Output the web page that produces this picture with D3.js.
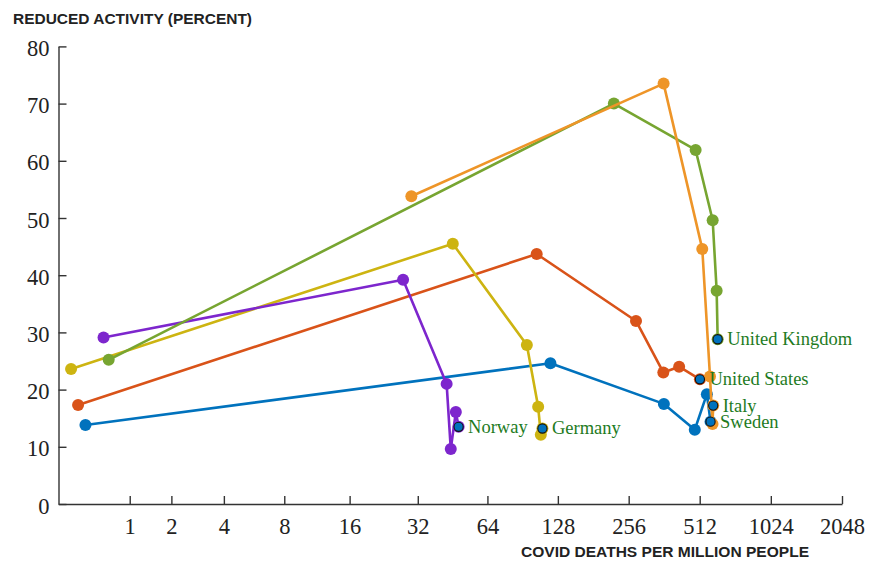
<!DOCTYPE html>
<html>
<head>
<meta charset="utf-8">
<script src="https://cdn.jsdelivr.net/npm/d3@7"></script>
<style>
  body { margin: 0; background: #fff; }
  svg { display: block; }
  .axis path, .axis line { stroke: #333; stroke-width: 1.4; }
  .axis text { font-family: "Liberation Serif", "DejaVu Serif", serif; font-size: 22.5px; fill: #222; }
</style>
</head>
<body>
<div id="chart"></div>
<script>
// Country paths: deaths per million (x) vs reduced activity in percent (y)
const countries = ["Sweden", "United States", "Germany", "Norway", "United Kingdom", "Italy"];
const colors = ["#0072BD", "#D95319", "#CDB411", "#7D26CD", "#77A531", "#EE9528"];

const deaths = [
  [0.30, 119, 361, 488, 549, 569],
  [0.21, 104, 275, 359, 419, 513],
  [0.13, 45.4, 94.4, 105.5, 108.3, 110],
  [0.55, 27.6, 42.7, 44.5, 46.8, 48.1],
  [0.63, 221.5, 492, 581, 604, 610],
  [30, 360, 525, 566, 580, 584]
];
const activity = [
  [13.8, 24.6, 17.5, 13.0, 19.2, 14.4],
  [17.3, 43.7, 32.0, 23.0, 24.0, 21.8],
  [23.6, 45.5, 27.8, 17.0, 12.1, 13.2],
  [29.1, 39.2, 21.0, 9.6, 16.1, 13.5],
  [25.2, 70.0, 61.9, 49.6, 37.3, 28.8],
  [53.8, 73.5, 44.6, 22.3, 14.0, 17.2]
];

const xTicks = [1, 2, 4, 8, 16, 32, 64, 128, 256, 512, 1024, 2048];
const yTicks = [0, 10, 20, 30, 40, 50, 60, 70, 80];

const width = 869, height = 561;
const svg = d3.select("#chart").append("svg")
    .attr("width", width)
    .attr("height", height);

// log(1 + x) axis, so zero deaths sits on the y axis
const x = d3.scaleSymlog().constant(1).domain([0, 2048]).range([58.5, 842]);
const y = d3.scaleLinear().domain([0, 80]).range([504, 46.4]);

svg.append("g")
    .attr("class", "axis")
    .attr("transform", "translate(0,504)")
    .call(d3.axisBottom(x).tickValues(xTicks).tickFormat(d3.format("d"))
        .tickSize(-8).tickSizeOuter(0).tickPadding(14))
    .selectAll("text").attr("dy", "0.71em");

svg.append("g")
    .attr("class", "axis")
    .attr("transform", "translate(58.5,0)")
    .call(d3.axisLeft(y).tickValues(yTicks).tickSize(-8).tickSizeOuter(0).tickPadding(9))
    .selectAll("text").attr("dy", "0.4em");

svg.append("text")
    .attr("x", 13)
    .attr("y", 24)
    .attr("font-family", "'Liberation Sans', Arial, sans-serif")
    .attr("font-weight", "bold")
    .attr("font-size", 14)
    .attr("textLength", 239)
    .attr("lengthAdjust", "spacingAndGlyphs")
    .attr("fill", "#222")
    .text("REDUCED ACTIVITY (PERCENT)");

svg.append("text")
    .attr("x", 521)
    .attr("y", 557)
    .attr("font-family", "'Liberation Sans', Arial, sans-serif")
    .attr("font-weight", "bold")
    .attr("font-size", 14)
    .attr("textLength", 288)
    .attr("lengthAdjust", "spacingAndGlyphs")
    .attr("fill", "#222")
    .text("COVID DEATHS PER MILLION PEOPLE");

const series = countries.map((name, i) => ({
  name: name,
  color: colors[i],
  points: deaths[i].map((d, j) => [d, activity[i][j]])
}));

const line = d3.line().x(d => x(d[0])).y(d => y(d[1]));

const groups = svg.selectAll(".country")
    .data(series)
    .enter()
    .append("g")
    .attr("class", "country");

groups.append("path")
    .attr("d", d => line(d.points))
    .attr("fill", "none")
    .attr("stroke", d => d.color)
    .attr("stroke-width", 2.6)
    .attr("stroke-linejoin", "round");

groups.selectAll("circle")
    .data(d => d.points.map(p => ({ p: p, color: d.color })))
    .enter()
    .append("circle")
    .attr("cx", d => x(d.p[0]))
    .attr("cy", d => y(d.p[1]))
    .attr("r", 6)
    .attr("fill", d => d.color);

// latest point of each country, highlighted and labelled
const last = series.map(s => ({ name: s.name, p: s.points[s.points.length - 1] }));

svg.selectAll(".end")
    .data(last)
    .enter()
    .append("circle")
    .attr("class", "end")
    .attr("cx", d => x(d.p[0]))
    .attr("cy", d => y(d.p[1]))
    .attr("r", 4.6)
    .attr("fill", "#0072BD")
    .attr("stroke", "#111")
    .attr("stroke-width", 1.1);

svg.selectAll(".label")
    .data(last)
    .enter()
    .append("text")
    .attr("class", "label")
    .attr("x", d => x(d.p[0]) + 9.5)
    .attr("y", d => y(d.p[1]) + 6)
    .attr("font-family", "'Liberation Serif', 'DejaVu Serif', serif")
    .attr("font-size", 18.5)
    .attr("fill", "#1E7B1E")
    .text(d => d.name);
</script>
</body>
</html>
